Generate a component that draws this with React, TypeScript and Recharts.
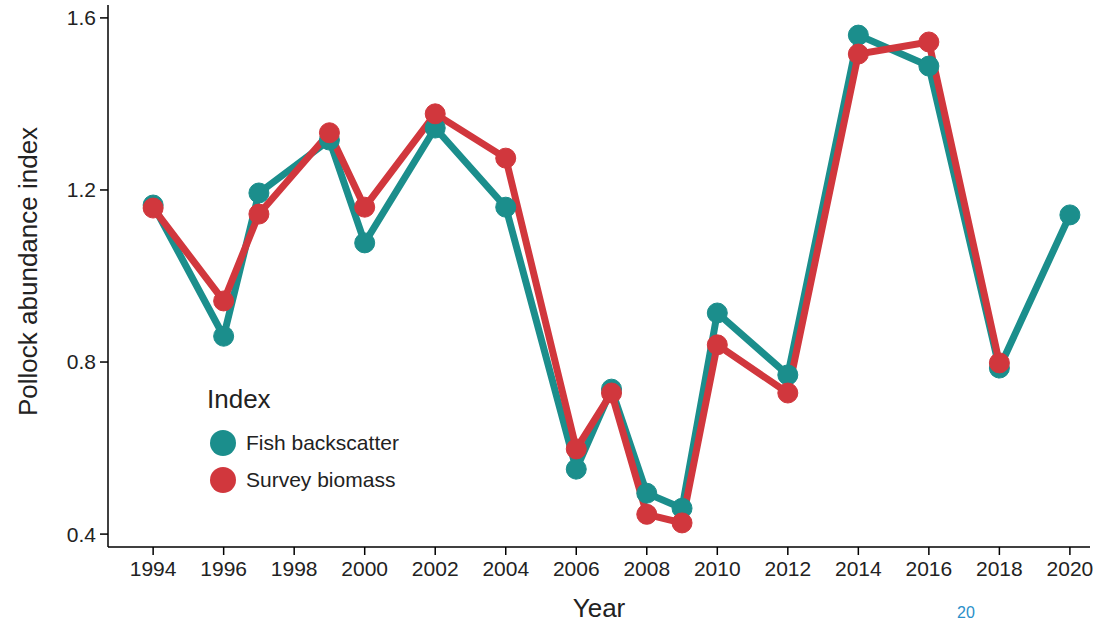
import { LineChart, Line, XAxis, YAxis } from "recharts"

const years = [1994, 1996, 1997, 1999, 2000, 2002, 2004, 2006, 2007, 2008, 2009, 2010, 2012, 2014, 2016, 2018, 2020]
const fishBackscatter = [1.165, 0.86, 1.193, 1.316, 1.077, 1.344, 1.16, 0.551, 0.737, 0.495, 0.46, 0.914, 0.77, 1.56, 1.488, 0.786, 1.142]
const surveyBiomass = [1.158, 0.942, 1.144, 1.333, 1.16, 1.377, 1.274, 0.598, 0.728, 0.446, 0.426, 0.84, 0.728, 1.516, 1.544, 0.798, null]
const xTicks = [1994, 1996, 1998, 2000, 2002, 2004, 2006, 2008, 2010, 2012, 2014, 2016, 2018, 2020]
const yTicks = [0.4, 0.8, 1.2, 1.6]

const TEAL = "#1b8e8c"
const RED = "#d1373d"

const data = years.map((y, i) => ({ year: y, fish: fishBackscatter[i], survey: surveyBiomass[i] }))

const tickStyle = { fill: "#222", fontSize: 21, fontFamily: "Liberation Sans, Arial" }

export default function App() {
  return (
    <div style={{ position: "absolute", left: 0, top: 0, width: 1103, height: 622, background: "#fff", fontFamily: "Liberation Sans, Arial" }}>
      <LineChart width={1103} height={622} data={data} margin={{ top: 5, right: 13, bottom: 45, left: 0 }}>
        <XAxis
          dataKey="year"
          type="number"
          domain={[1992.72, 2020.57]}
          ticks={xTicks}
          tick={tickStyle}
          tickSize={8}
          tickMargin={6}
          height={30}
          stroke="#000"
          strokeWidth={1.5}
          label={{ value: "Year", position: "insideBottom", offset: -40, fill: "#222", fontSize: 26 }}
        />
        <YAxis
          type="number"
          domain={[0.37, 1.63]}
          ticks={yTicks}
          tickFormatter={(v: number) => v.toFixed(1)}
          tick={tickStyle}
          tickSize={8}
          tickMargin={4}
          width={108}
          stroke="#000"
          strokeWidth={1.5}
          label={{ value: "Pollock abundance index", angle: -90, position: "insideLeft", offset: 28, dy: 140, fill: "#222", fontSize: 26 }}
        />
        <Line dataKey="fish" stroke={TEAL} strokeWidth={7} dot={{ r: 10, fill: TEAL, stroke: TEAL, strokeWidth: 1 }} isAnimationActive={false} connectNulls />
        <Line dataKey="survey" stroke={RED} strokeWidth={7} dot={{ r: 10, fill: RED, stroke: RED, strokeWidth: 1 }} isAnimationActive={false} />
      </LineChart>
      <div style={{ position: "absolute", left: 207, top: 384, fontSize: 26, color: "#222" }}>Index</div>
      {[
        { label: "Fish backscatter", color: TEAL, top: 430 },
        { label: "Survey biomass", color: RED, top: 467 },
      ].map((it) => (
        <div key={it.label} style={{ position: "absolute", left: 210, top: it.top, display: "flex", alignItems: "center" }}>
          <span style={{ width: 26, height: 26, borderRadius: 13, background: it.color, display: "inline-block" }} />
          <span style={{ marginLeft: 10, fontSize: 21, color: "#222" }}>{it.label}</span>
        </div>
      ))}
      <div style={{ position: "absolute", left: 957, top: 604, fontSize: 16, color: "#2a8fc9" }}>20</div>
    </div>
  )
}
